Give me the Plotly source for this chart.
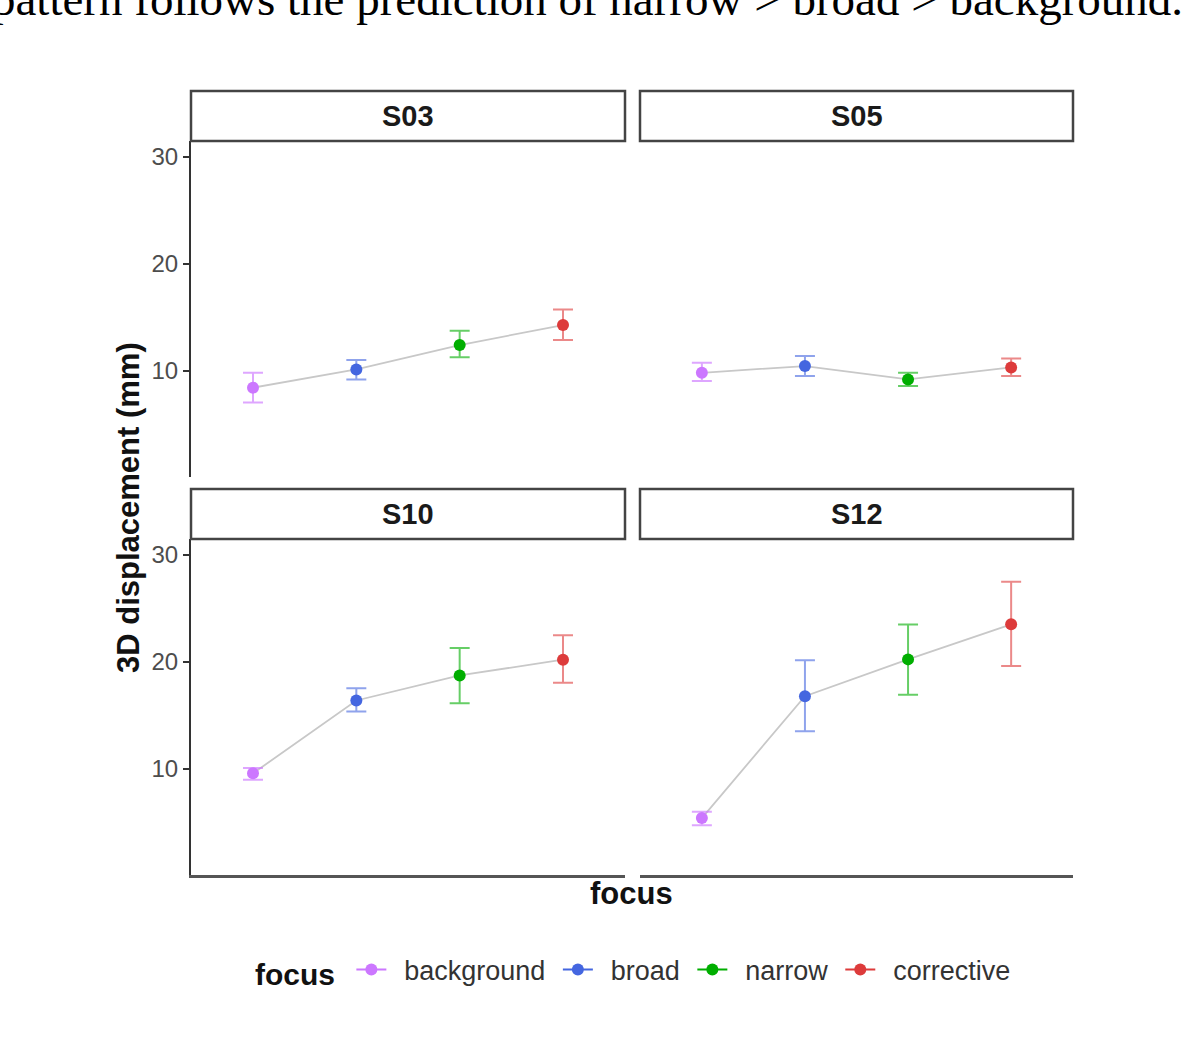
import plotly.graph_objects as go

# %% Data
speakers = ['S03', 'S05', 'S10', 'S12']
focus_levels = ['background', 'broad', 'narrow', 'corrective']
colors = ['#CC77FF', '#4466E0', '#00AE00', '#DD3B3B']
bar_colors = ['rgba(204,119,255,0.65)', 'rgba(68,102,224,0.6)', 'rgba(0,174,0,0.6)', 'rgba(221,59,59,0.6)']

mean_s03 = [8.45, 10.15, 12.43, 14.3]
upper_s03 = [9.84, 11.03, 13.77, 15.76]
lower_s03 = [7.07, 9.22, 11.28, 12.9]

mean_s05 = [9.84, 10.47, 9.22, 10.34]
upper_s05 = [10.78, 11.4, 9.84, 11.18]
lower_s05 = [9.07, 9.53, 8.6, 9.53]

mean_s10 = [9.6, 16.41, 18.75, 20.22]
upper_s10 = [10.1, 17.56, 21.31, 22.5]
lower_s10 = [9.0, 15.38, 16.16, 18.07]

mean_s12 = [5.42, 16.81, 20.25, 23.53]
upper_s12 = [6.0, 20.16, 23.5, 27.5]
lower_s12 = [4.76, 13.53, 16.94, 19.62]

y_ticks = [10, 20, 30]

means = [mean_s03, mean_s05, mean_s10, mean_s12]
uppers = [upper_s03, upper_s05, upper_s10, upper_s12]
lowers = [lower_s03, lower_s05, lower_s10, lower_s12]

# %% Layout geometry (pixels in a 1200 x 1041 page)
W, H = 1200, 1041
col_px = [(191, 625), (640, 1073)]
row_px = [(141, 477), (539, 875)]
strip_h = 50
font = 'Liberation Sans'
nb = '\u00a0'


def px_x(x):
    return x / W


def px_y(y):
    return 1 - y / H


fig = go.Figure()
layout_axes = {}

for k, spk in enumerate(speakers):
    r, c = divmod(k, 2)
    n = k + 1
    xa = 'x' if n == 1 else f'x{n}'
    ya = 'y' if n == 1 else f'y{n}'
    x0, x1 = col_px[c]
    y0, y1 = row_px[r]

    # grey connecting line
    fig.add_trace(go.Scatter(
        x=focus_levels, y=means[k], mode='lines',
        line=dict(color='#C8C8C8', width=1.8),
        showlegend=False, hoverinfo='skip',
        xaxis=xa, yaxis=ya
    ))

    for j, lvl in enumerate(focus_levels):
        fig.add_trace(go.Scatter(
            x=[lvl], y=[means[k][j]],
            mode='lines+markers',
            marker=dict(color=colors[j], size=12),
            line=dict(color=colors[j], width=2),
            error_y=dict(
                type='data', symmetric=False,
                array=[uppers[k][j] - means[k][j]],
                arrayminus=[means[k][j] - lowers[k][j]],
                color=bar_colors[j], thickness=2, width=10
            ),
            name=nb + '\u2009' + lvl + nb, legendgroup=lvl, showlegend=(k == 0),
            xaxis=xa, yaxis=ya
        ))

    layout_axes['xaxis' if n == 1 else f'xaxis{n}'] = dict(
        domain=[px_x(x0), px_x(x1)], anchor=ya,
        type='category', categoryorder='array', categoryarray=focus_levels,
        range=[-0.6, 3.6], showticklabels=False, ticks='', showgrid=False,
        zeroline=False, showline=(r == 1), linecolor='#555555', linewidth=2.5
    )
    layout_axes['yaxis' if n == 1 else f'yaxis{n}'] = dict(
        domain=[px_y(y1), px_y(y0)], anchor=xa,
        range=[0.1, 31.5], tickvals=y_ticks, showgrid=False, zeroline=False,
        showline=(c == 0), linecolor='#333333', linewidth=2,
        ticks='outside' if c == 0 else '', ticklen=6, tickcolor='#333333', tickwidth=1.5,
        showticklabels=(c == 0),
        tickfont=dict(family=font, size=24, color='#4D4D4D')
    )

    # strip
    fig.add_shape(type='rect', xref='paper', yref='paper',
                  x0=px_x(x0), x1=px_x(x1), y0=px_y(y0), y1=px_y(y0 - strip_h),
                  line=dict(color='#444444', width=2.5), fillcolor='white')
    fig.add_annotation(text=f'<b>{spk}</b>', xref='paper', yref='paper',
                       x=px_x((x0 + x1) / 2), y=px_y(y0 - strip_h / 2),
                       xanchor='center', yanchor='middle', showarrow=False,
                       font=dict(family=font, size=29, color='#1A1A1A'))

# axis titles
fig.add_annotation(text='<b>3D displacement (mm)</b>', xref='paper', yref='paper',
                   x=px_x(128), y=px_y(508), xanchor='center', yanchor='middle',
                   textangle=-90, showarrow=False,
                   font=dict(family=font, size=31, color='#111111'))
fig.add_annotation(text='<b>focus</b>', xref='paper', yref='paper',
                   x=px_x(632), y=px_y(893), xanchor='center', yanchor='middle',
                   showarrow=False,
                   font=dict(family=font, size=31, color='#111111'))

# cropped sentence from the page above the figure
fig.add_annotation(text='pattern follows the prediction of narrow > broad > background.',
                   xref='paper', yref='paper', x=px_x(-10), y=px_y(-1),
                   xanchor='left', yanchor='middle', showarrow=False,
                   font=dict(family='Liberation Serif', size=47, color='black'))

fig.update_layout(
    **layout_axes,
    width=W, height=H,
    margin=dict(l=0, r=0, t=0, b=0),
    plot_bgcolor='white', paper_bgcolor='white',
    legend=dict(
        orientation='h', x=px_x(253), y=px_y(970), xanchor='left', yanchor='middle',
        title=dict(text='<b>focus</b>' + nb, font=dict(family=font, size=30, color='#111111')),
        font=dict(family=font, size=27, color='#333333'),
        itemwidth=30, tracegroupgap=0
    )
)

fig.write_html('out.html', config={'displayModeBar': False},
               post_script="document.body.style.margin='0';")
